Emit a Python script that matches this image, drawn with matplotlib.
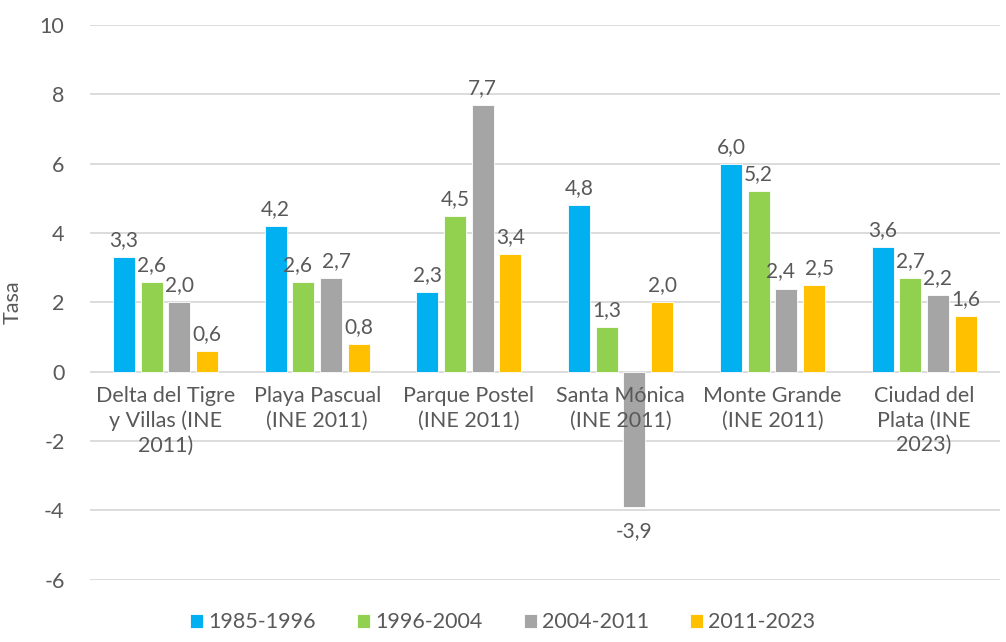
import numpy as np
import matplotlib
matplotlib.use('Agg')
import matplotlib.pyplot as plt

# datos
categorias = ['Delta del Tigre\ny Villas (INE\n2011)', 'Playa Pascual\n(INE 2011)',
              'Parque Postel\n(INE 2011)', 'Santa Mónica\n(INE 2011)',
              'Monte Grande\n(INE 2011)', 'Ciudad del\nPlata (INE\n2023)']
periodos = ['1985-1996', '1996-2004', '2004-2011', '2011-2023']
t_1985_1996 = [3.3, 4.2, 2.3, 4.8, 6.0, 3.6]
t_1996_2004 = [2.6, 2.6, 4.5, 1.3, 5.2, 2.7]
t_2004_2011 = [2.0, 2.7, 7.7, -3.9, 2.4, 2.2]
t_2011_2023 = [0.6, 0.8, 3.4, 2.0, 2.5, 1.6]
colores = ['#00B0F0', '#92D050', '#A5A5A5', '#FFC000']

plt.rcParams['font.family'] = ['Lato', 'DejaVu Sans']
plt.rcParams['axes.unicode_minus'] = False
gris = '#595959'
fs = 15.5

fig = plt.figure(figsize=(10.06, 6.42), dpi=100)
ax = fig.add_axes([0.089, 0.097, 0.905, 0.864])

x = np.arange(len(categorias))
ancho = 0.145
paso = 0.182
series = [t_1985_1996, t_1996_2004, t_2004_2011, t_2011_2023]
for i, (serie, nombre, color) in enumerate(zip(series, periodos, colores)):
    pos = x + (i - 1.5) * paso
    barras = ax.bar(pos, serie, ancho, color=color, label=nombre, zorder=3,
                    edgecolor='white', linewidth=0.6)
    for j, (b, v) in enumerate(zip(barras, serie)):
        # separar etiquetas vecinas de altura parecida (como hace Excel)
        dx = 0
        if i > 0 and abs(series[i - 1][j] - v) < 0.5:
            dx += 4
        if i < 3 and abs(series[i + 1][j] - v) < 0.5:
            dx -= 4
        ax.annotate(f'{v:.1f}'.replace('.', ','),
                    (b.get_x() + b.get_width() / 2, v),
                    xytext=(dx, 5 if v >= 0 else -10), textcoords='offset points',
                    ha='center', va='bottom' if v >= 0 else 'top',
                    fontsize=15, color=gris)

ax.set_xlim(-0.5, len(categorias) - 0.5)
ax.set_ylim(-6, 10)
ax.set_yticks(range(-6, 11, 2))
ax.grid(axis='y', color='#D9D9D9', linewidth=1.3, zorder=0)
for s in ax.spines.values():
    s.set_visible(False)
ax.tick_params(axis='y', length=0, labelsize=fs, labelcolor=gris, pad=18)
ax.set_xticks([])
ax.set_ylabel('Tasa', fontsize=fs, color=gris, labelpad=12)

# etiquetas de categoría junto al eje cero
for xi, cat in zip(x, categorias):
    ax.annotate(cat, (xi, 0), xytext=(0, -10), textcoords='offset points',
                ha='center', va='top', fontsize=fs, color=gris, linespacing=1.3)

fig.legend(loc='lower center', bbox_to_anchor=(0.5, -0.015), ncol=4, frameon=False,
           fontsize=fs, labelcolor=gris, handlelength=0.6, handleheight=0.6,
           handletextpad=0.25, columnspacing=1.9)

fig.savefig('out.png', dpi=100)
